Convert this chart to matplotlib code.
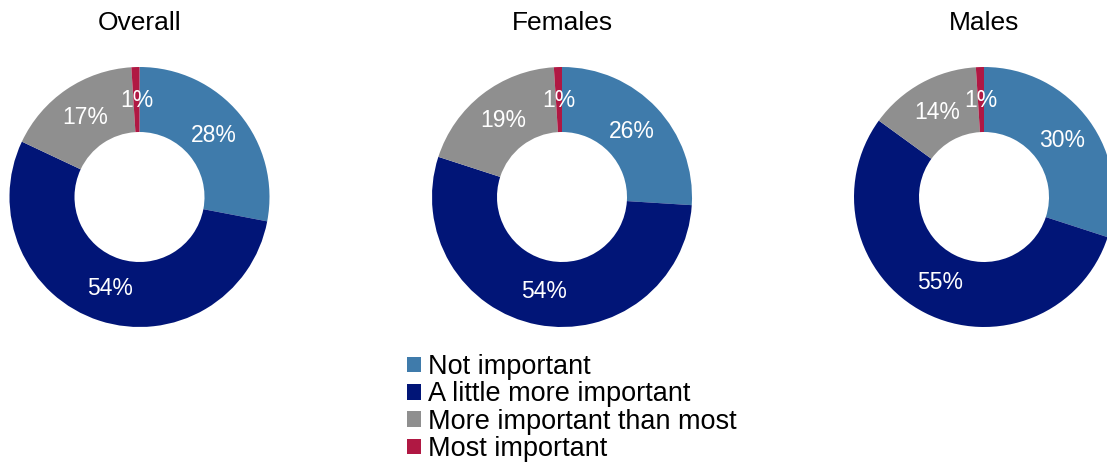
import matplotlib
matplotlib.use("Agg")
import matplotlib.pyplot as plt
from matplotlib.patches import Patch

plt.rcParams['font.family'] = ['Liberation Sans', 'DejaVu Sans']

categories = ["Not important", "A little more important", "More important than most", "Most important"]
groups = ["Overall", "Females", "Males"]
overall = [28, 54, 17, 1]
females = [26, 54, 19, 1]
males = [30, 55, 14, 1]
series = [overall, females, males]
colors = ["#3F7BAB", "#011577", "#8F8F8F", "#B01843"]

W, H = 1107, 465
fig = plt.figure(figsize=(W / 100, H / 100), dpi=100)

centers_x = [139.5, 562, 984]
cy = 197
R = 130

for cx, vals, title in zip(centers_x, series, groups):
    ax = fig.add_axes([(cx - R) / W, (H - cy - R) / H, 2 * R / W, 2 * R / H])
    wedges, texts = ax.pie(vals, colors=colors, startangle=90, counterclock=False,
                           radius=1.0, wedgeprops=dict(width=0.5, edgecolor='none'),
                           labels=[f"{v}%" for v in vals], labeldistance=0.74,
                           textprops=dict(color='white', fontsize=16.5, ha='center', va='center'))
    ax.set_xlim(-1, 1)
    ax.set_ylim(-1, 1)
    ax.set_aspect('equal')
    ax.axis('off')
    fig.text(cx / W, 1 - 23 / H, title, ha='center', va='center', fontsize=19)

handles = [Patch(facecolor=c, edgecolor='none', label=l) for c, l in zip(colors, categories)]
fig.legend(handles=handles, loc='upper left', bbox_to_anchor=(407 / W, 1 - 354 / H),
           frameon=False, fontsize=19.5, handlelength=0.52, handleheight=0.52,
           handletextpad=0.25, labelspacing=0.05, borderpad=0, borderaxespad=0)

fig.savefig("out.png", dpi=100)
